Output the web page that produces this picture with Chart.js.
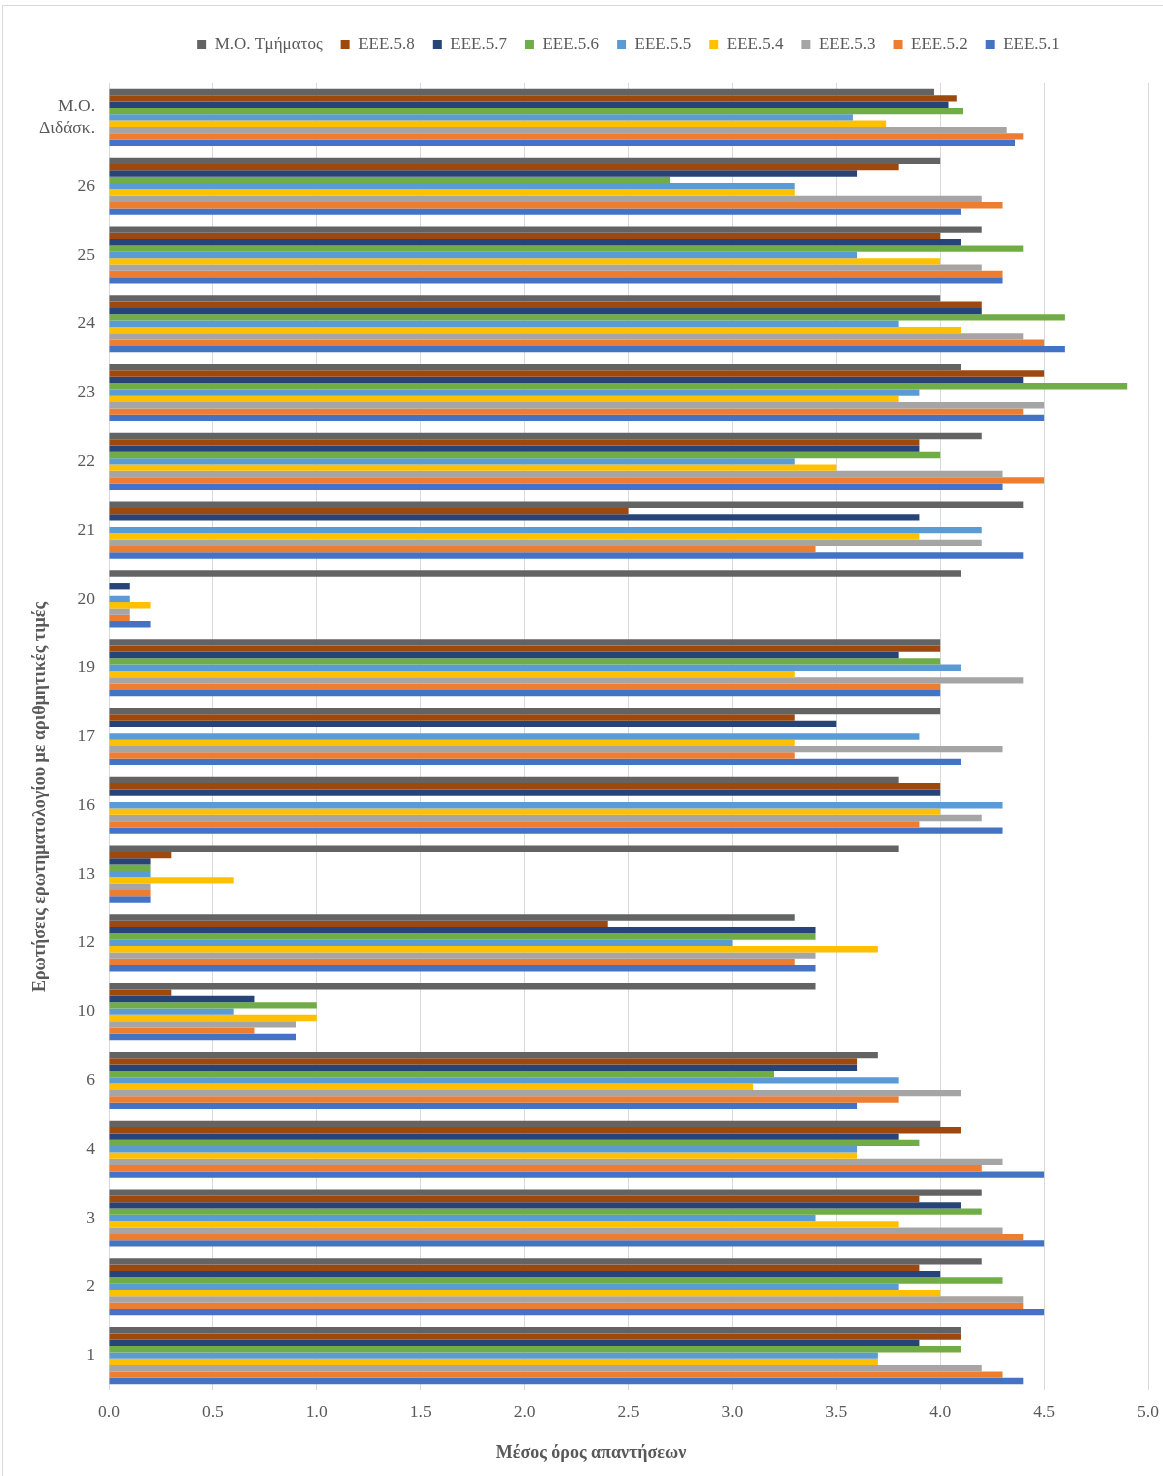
<!DOCTYPE html>
<html>
<head>
<meta charset="utf-8">
<script src="https://cdn.jsdelivr.net/npm/chart.js@4.4.1/dist/chart.umd.min.js"></script>
<style>
  html, body { margin: 0; padding: 0; background: #fff; }
  #wrap { position: relative; width: 1163px; height: 1476px; }
  #frame { position: absolute; left: 2px; top: 5px; width: 1170px; height: 1480px;
           border-left: 1px solid #d9d9d9; border-top: 1px solid #d9d9d9; }
  #chart { position: absolute; left: 0; top: 0; }
</style>
</head>
<body>
<div id="wrap">
  <div id="frame"></div>
  <canvas id="chart" width="1163" height="1476"></canvas>
</div>
<script>
// categories, top to bottom as in the picture
const categories = [['Μ.Ο.', 'Διδάσκ.'], '26', '25', '24', '23', '22', '21', '20', '19', '17', '16', '13', '12', '10', '6', '4', '3', '2', '1'];

const xTicks = [0, 0.5, 1, 1.5, 2, 2.5, 3, 3.5, 4, 4.5, 5];

const moTmimatos = [3.97, 4.0, 4.2, 4.0, 4.1, 4.2, 4.4, 4.1, 4.0, 4.0, 3.8, 3.8, 3.3, 3.4, 3.7, 4.0, 4.2, 4.2, 4.1];
const eee58 = [4.08, 3.8, 4.0, 4.2, 4.5, 3.9, 2.5, null, 4.0, 3.3, 4.0, 0.3, 2.4, 0.3, 3.6, 4.1, 3.9, 3.9, 4.1];
const eee57 = [4.04, 3.6, 4.1, 4.2, 4.4, 3.9, 3.9, 0.1, 3.8, 3.5, 4.0, 0.2, 3.4, 0.7, 3.6, 3.8, 4.1, 4.0, 3.9];
const eee56 = [4.11, 2.7, 4.4, 4.6, 4.9, 4.0, null, null, 4.0, null, null, 0.2, 3.4, 1.0, 3.2, 3.9, 4.2, 4.3, 4.1];
const eee55 = [3.58, 3.3, 3.6, 3.8, 3.9, 3.3, 4.2, 0.1, 4.1, 3.9, 4.3, 0.2, 3.0, 0.6, 3.8, 3.6, 3.4, 3.8, 3.7];
const eee54 = [3.74, 3.3, 4.0, 4.1, 3.8, 3.5, 3.9, 0.2, 3.3, 3.3, 4.0, 0.6, 3.7, 1.0, 3.1, 3.6, 3.8, 4.0, 3.7];
const eee53 = [4.32, 4.2, 4.2, 4.4, 4.5, 4.3, 4.2, 0.1, 4.4, 4.3, 4.2, 0.2, 3.4, 0.9, 4.1, 4.3, 4.3, 4.4, 4.2];
const eee52 = [4.40, 4.3, 4.3, 4.5, 4.4, 4.5, 3.4, 0.1, 4.0, 3.3, 3.9, 0.2, 3.3, 0.7, 3.8, 4.2, 4.4, 4.4, 4.3];
const eee51 = [4.36, 4.1, 4.3, 4.6, 4.5, 4.3, 4.4, 0.2, 4.0, 4.1, 4.3, 0.2, 3.4, 0.9, 3.6, 4.5, 4.5, 4.5, 4.4];

const SERIF = "'Liberation Serif', 'Times New Roman', serif";
const TEXT = '#595959';

function ds(label, data, color) {
  return { label: label, data: data, backgroundColor: color, borderWidth: 0,
           categoryPercentage: 0.83, barPercentage: 1.0 };
}

// legend box sits a bit lower than Chart.js would put it
const legendSpace = {
  id: 'legendSpace',
  beforeInit(chart) {
    const fit = chart.legend.fit;
    chart.legend.fit = function () {
      fit.bind(chart.legend)();
      this.height = 65;
    };
  }
};

// axis titles, placed where the original has them
const axisTitles = {
  id: 'axisTitles',
  afterDraw(chart) {
    const c = chart.ctx;
    c.save();
    c.fillStyle = TEXT;
    c.font = 'bold 18px ' + SERIF;
    c.textAlign = 'center';
    c.textBaseline = 'middle';
    c.fillText('Μέσος όρος απαντήσεων', 591, 1453);
    c.translate(40, 797);
    c.rotate(-Math.PI / 2);
    c.fillText('Ερωτήσεις ερωτηματολογίου με αριθμητικές τιμές', 0, 0);
    c.restore();
  }
};

new Chart(document.getElementById('chart'), {
  type: 'bar',
  data: {
    labels: categories,
    datasets: [
      ds('Μ.Ο. Τμήματος', moTmimatos, '#636363'),
      ds('EEE.5.8', eee58, '#9E480E'),
      ds('EEE.5.7', eee57, '#264478'),
      ds('EEE.5.6', eee56, '#70AD47'),
      ds('EEE.5.5', eee55, '#5B9BD5'),
      ds('EEE.5.4', eee54, '#FFC000'),
      ds('EEE.5.3', eee53, '#A5A5A5'),
      ds('EEE.5.2', eee52, '#ED7D31'),
      ds('EEE.5.1', eee51, '#4472C4')
    ]
  },
  options: {
    indexAxis: 'y',
    responsive: false,
    animation: false,
    layout: { padding: { top: 18, left: 0, right: 15, bottom: 10 } },
    scales: {
      x: {
        min: 0, max: 5,
        afterBuildTicks: (s) => { s.ticks = xTicks.map(v => ({ value: v })); },
        afterFit: (s) => { s.height = 76; s.paddingLeft = 0; s.paddingRight = 0; },
        border: { display: false },
        grid: { color: '#d9d9d9', lineWidth: 1, drawTicks: false },
        ticks: {
          padding: 12, color: TEXT, font: { family: SERIF, size: 17.5 },
          callback: (v) => Number(v).toFixed(1)
        }
      },
      y: {
        afterFit: (s) => { s.width = 109; },
        border: { display: false },
        grid: { display: false, drawTicks: false, tickLength: 0 },
        ticks: { padding: 14, color: TEXT, font: { family: SERIF, size: 17.5, lineHeight: 1.3 } }
      }
    },
    plugins: {
      legend: {
        position: 'top',
        fullSize: false,
        labels: {
          boxWidth: 9, boxHeight: 9, padding: 18,
          color: TEXT, font: { family: SERIF, size: 17 }
        }
      },
      tooltip: { enabled: false }
    }
  },
  plugins: [legendSpace, axisTitles]
});
</script>
</body>
</html>
